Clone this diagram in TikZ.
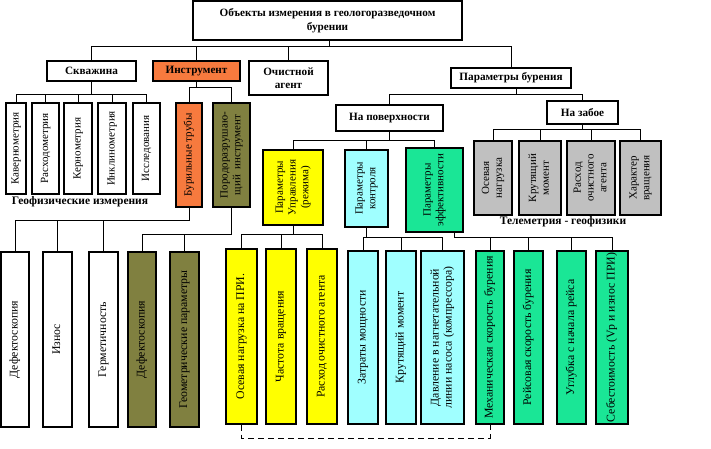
\documentclass[tikz,border=0pt]{standalone}
\usepackage{fontspec}
\setmainfont{Liberation Serif}
\definecolor{orng}{RGB}{247,122,62}
\definecolor{olv}{RGB}{128,128,64}
\definecolor{ylw}{RGB}{255,255,0}
\definecolor{cyn}{RGB}{160,255,255}
\definecolor{grn}{RGB}{26,230,150}
\definecolor{gry}{RGB}{192,192,192}
\newcommand{\vtext}[1]{\rotatebox{90}{\begin{tabular}{@{}c@{}}#1\end{tabular}}}
\begin{document}
\begin{tikzpicture}[x=1pt,y=-1pt,
  box/.style={draw, line width=1.2pt, inner sep=1pt, align=center, fill=white,
    font=\bfseries\fontsize{11.2}{13.5}\selectfont},
  vbox/.style={draw, line width=1.2pt, inner sep=0pt, fill=white,
    font=\fontsize{11}{12.8}\selectfont},
  tall/.style={font=\fontsize{11.8}{13}\selectfont},
  sz/.style 2 args={minimum width=#1pt, minimum height=#2pt},
  link/.style={line width=1pt},
  lbl/.style={font=\bfseries\fontsize{11.5}{12}\selectfont, inner sep=0pt}]
\useasboundingbox (0,0) rectangle (711,449);

% top
\node[box, sz={269}{39}] (top) at (327.5,20.5) {Объекты измерения в геологоразведочном\\бурении};
% row 2
\node[box, sz={89}{20}] (skv) at (91.5,71) {Скважина};
\node[box, sz={87}{20}, fill=orng] (ins) at (196.5,71) {Инструмент};
\node[box, sz={79}{34}] (och) at (288.5,78) {Очистной\\агент};
\node[box, sz={120}{20}] (pb) at (511,78) {Параметры бурения};

% well children
\node[vbox, sz={20}{91}] (k1) at (16,148.5) {\vtext{Кавернометрия}};
\node[vbox, sz={27}{91}] (k2) at (45.5,148.5) {\vtext{Расходометрия}};
\node[vbox, sz={28}{91}] (k3) at (78,148.5) {\vtext{Кернометрия}};
\node[vbox, sz={28}{91}] (k4) at (112,148.5) {\vtext{Инклинометрия}};
\node[vbox, sz={27}{91}] (k5) at (146.5,148.5) {\vtext{Исследования}};
\node[lbl] (geo) at (80,202) {Геофизические измерения};

% instrument children
\node[vbox, sz={26}{104}, fill=orng] (bt) at (189,155) {\vtext{Бурильные трубы}};
\node[vbox, sz={37}{104}, fill=olv] (pri) at (231.5,155) {\vtext{Породоразрушаю-\\щий\ \ инструмент}};

% drilling parameters
\node[box, sz={107}{26}] (pov) at (389.5,118) {На поверхности};
\node[box, sz={71}{23}] (zab) at (582.5,112.5) {На забое};

\node[vbox, sz={60}{75}, fill=ylw] (pu) at (293,187.5) {\vtext{Параметры\\Управления\\(режима)}};
\node[vbox, sz={43}{77}, fill=cyn] (pk) at (366.5,188.5) {\vtext{Параметры\\контроля}};
\node[vbox, sz={57}{84}, fill=grn] (pe) at (434.5,190) {\vtext{Параметры\\эффективности}};

\node[vbox, sz={38}{74}, fill=gry] (g1) at (493,178) {\vtext{Осевая\\нагрузка}};
\node[vbox, sz={42}{74}, fill=gry] (g2) at (540,178) {\vtext{Крутящий\\момент}};
\node[vbox, sz={48}{74}, fill=gry] (g3) at (591,178) {\vtext{Расход\\очистного\\агента}};
\node[vbox, sz={41}{74}, fill=gry] (g4) at (640.5,178) {\vtext{Характер\\вращения}};
\node[lbl] (tel) at (563,222) {Телеметрия - геофизики};

% bottom row
\node[vbox, tall, sz={28}{175}] (w1) at (15,339.5) {\vtext{Дефектоскопия}};
\node[vbox, tall, sz={29}{175}] (w2) at (57.5,339.5) {\vtext{Износ}};
\node[vbox, tall, sz={29}{175}] (w3) at (103.5,339.5) {\vtext{Герметичность}};
\node[vbox, tall, sz={28}{175}, fill=olv] (o1) at (142,339.5) {\vtext{Дефектоскопия}};
\node[vbox, tall, sz={29}{175}, fill=olv] (o2) at (184.5,339.5) {\vtext{Геометрические параметры}};

\node[vbox, tall, sz={31}{175}, fill=ylw] (y1) at (241.5,336.5) {\vtext{Осевая нагрузка на ПРИ.}};
\node[vbox, tall, sz={30}{175}, fill=ylw] (y2) at (281,336.5) {\vtext{Частота вращения}};
\node[vbox, tall, sz={30}{175}, fill=ylw] (y3) at (322,336.5) {\vtext{Расход очистного агента}};

\node[vbox, tall, sz={30}{173}, fill=cyn] (c1) at (363,337.5) {\vtext{Затраты мощности}};
\node[vbox, tall, sz={30}{173}, fill=cyn] (c2) at (401,337.5) {\vtext{Крутящий момент}};
\node[vbox, tall, sz={43}{173}, fill=cyn] (c3) at (442.5,337.5) {\vtext{Давление в нагнетательной\\линии насоса (компрессора)}};

\node[vbox, tall, sz={28}{173}, fill=grn] (e1) at (490,337.5) {\vtext{Механическая скорость бурения}};
\node[vbox, tall, sz={29}{173}, fill=grn] (e2) at (528.5,337.5) {\vtext{Рейсовая скорость бурения}};
\node[vbox, tall, sz={29}{173}, fill=grn] (e3) at (571.5,337.5) {\vtext{Углубка с начала рейса}};
\node[vbox, tall, sz={32}{173}, fill=grn] (e4) at (612,337.5) {\vtext{Себестоимость (Vр и износ ПРИ)}};

% bus levels
\coordinate (b0) at (0,47);
\coordinate (b1) at (0,95);
\coordinate (b2) at (0,88);
\coordinate (b3) at (0,95);
\coordinate (b4) at (0,141);
\coordinate (b5) at (0,130);
\coordinate (b6) at (0,220);
\coordinate (b7) at (0,234);
\coordinate (b8) at (0,234);
\coordinate (b9) at (0,237);
\coordinate (b10) at (0,237);
\coordinate (bd) at (0,438);
\coordinate (topx) at (329,40);
\coordinate (pbx) at (516,88);
\coordinate (pex) at (454,232);

% connectors
\begin{scope}[link]
\foreach \c in {skv,ins,och,pb} \draw (topx) -- (topx |- b0) -| (\c.north);
\foreach \c in {k1,k2,k3,k4,k5} \draw (skv.south) -- (skv.south |- b1) -| (\c.north);
\foreach \c in {bt,pri} \draw (ins.south) -- (ins.south |- b2) -| (\c.north);
\foreach \c in {pov,zab} \draw (pbx) -- (pbx |- b3) -| (\c.north);
\foreach \c in {pu,pk,pe} \draw (pov.south) -- (pov.south |- b4) -| (\c.north);
\foreach \c in {g1,g2,g3,g4} \draw (zab.south) -- (zab.south |- b5) -| (\c.north);
\foreach \c in {w1,w2,w3} \draw (bt.south) -- (bt.south |- b6) -| (\c.north);
\foreach \c in {o1,o2} \draw (pri.south) -- (pri.south |- b7) -| (\c.north);
\foreach \c in {y1,y2,y3} \draw (pu.south) -- (pu.south |- b8) -| (\c.north);
\foreach \c in {c1,c2,c3} \draw (pk.south) -- (pk.south |- b9) -| (\c.north);
\foreach \c in {e1,e2,e3,e4} \draw (pex) -- (pex |- b10) -| (\c.north);
\draw[dash pattern=on 6pt off 4pt] (y1.south) -- (y1.south |- bd) -| (e1.south);
\end{scope}
\end{tikzpicture}
\end{document}
